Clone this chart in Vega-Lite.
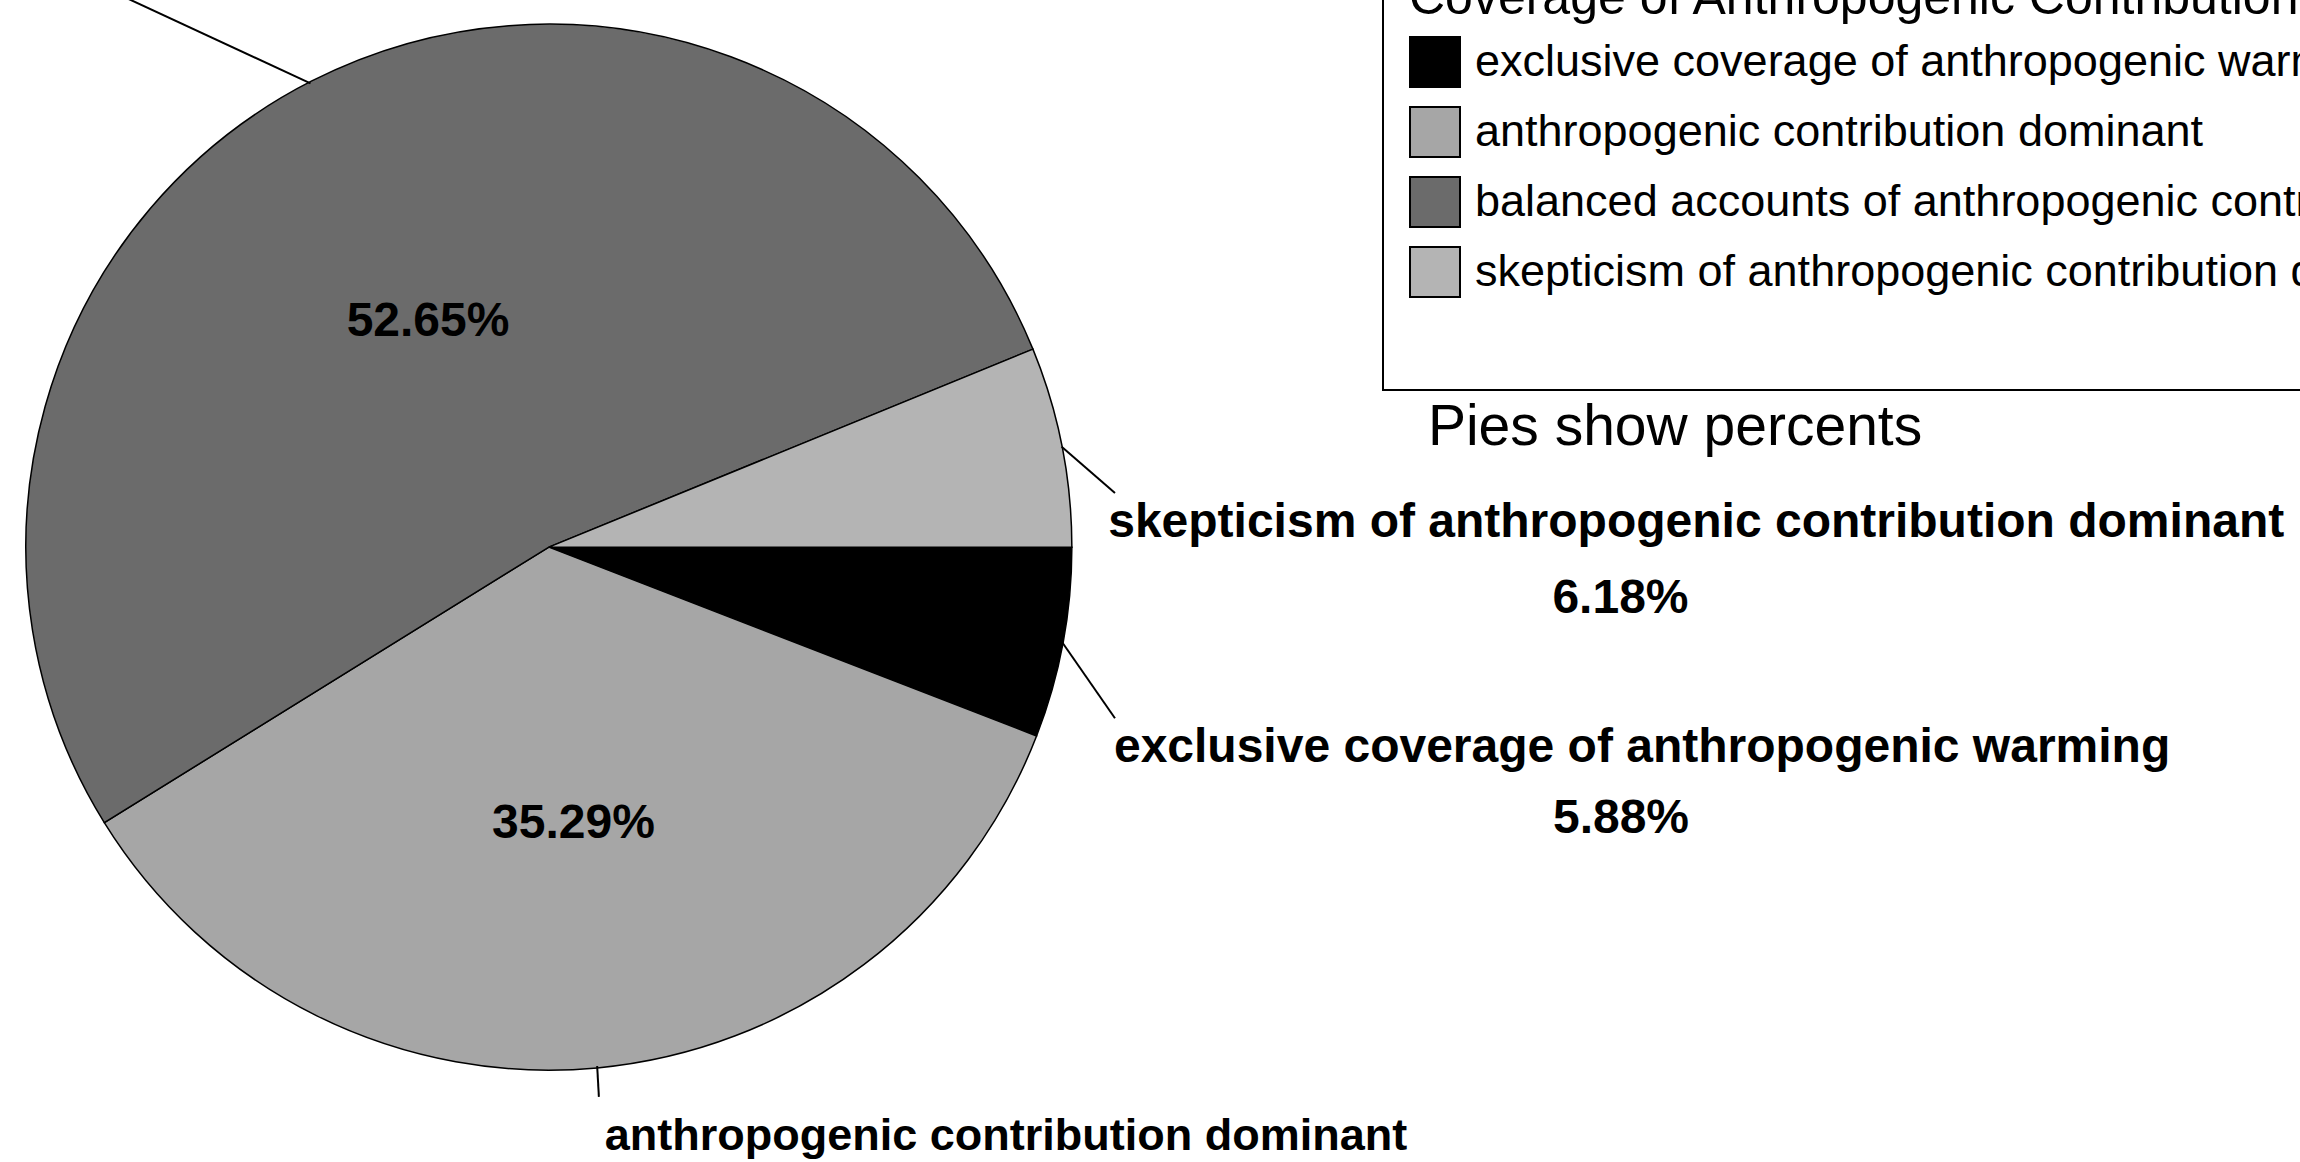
{
  "$schema": "https://vega.github.io/schema/vega-lite/v6.json",
  "width": 2300,
  "height": 1162,
  "padding": 0,
  "autosize": {"type": "none"},
  "background": "white",
  "config": {"view": {"stroke": null}, "font": "Liberation Sans"},
  "datasets": {
    "slices": [
      {"category": "exclusive coverage of anthropogenic warming", "idx": 1, "share": 0.0588},
      {"category": "anthropogenic contribution dominant", "idx": 2, "share": 0.3529},
      {"category": "balanced accounts of anthropogenic contribution and skepticism", "idx": 3, "share": 0.5265},
      {"category": "skepticism of anthropogenic contribution dominant", "idx": 4, "share": 0.0618}
    ],
    "labels": [
      {"category": "exclusive coverage of anthropogenic warming", "edgeX": 0.983, "edgeY": -0.184, "endX": 1.083, "endY": -0.3285, "nameX": 1.081, "nameY": -0.412, "pctX": 2.051, "pctY": -0.548},
      {"category": "anthropogenic contribution dominant", "edgeX": 0.0924, "edgeY": -0.9957, "endX": 0.0957, "endY": -1.055, "nameX": 0.107, "nameY": -1.157, "pctX": null, "pctY": null},
      {"category": "balanced accounts of anthropogenic contribution and skepticism", "edgeX": -0.456, "edgeY": 0.89, "endX": -0.918, "endY": 1.105, "nameX": null, "nameY": null, "pctX": null, "pctY": null},
      {"category": "skepticism of anthropogenic contribution dominant", "edgeX": 0.981, "edgeY": 0.1925, "endX": 1.083, "endY": 0.104, "nameX": 1.07, "nameY": 0.02, "pctX": 2.05, "pctY": -0.126}
    ],
    "note": [{"text": "Pies show percents", "x": 1.6817, "y": 0.1962}]
  },
  "layer": [
    {
      "data": {"name": "slices"},
      "mark": {"type": "arc", "radius": 523, "stroke": "black", "strokeWidth": 1.5},
      "encoding": {
        "x": {"datum": 0, "type": "quantitative", "scale": {"domain": [-1.05, 3.35], "nice": false, "zero": false}, "axis": null},
        "y": {"datum": 0, "type": "quantitative", "scale": {"domain": [-1.18, 1.05], "nice": false, "zero": false}, "axis": null},
        "theta": {"field": "share", "type": "quantitative", "stack": true, "scale": {"range": [1.5708, 7.854]}},
        "order": {"field": "idx", "type": "quantitative"},
        "color": {
          "field": "category",
          "type": "nominal",
          "scale": {
            "domain": ["exclusive coverage of anthropogenic warming", "anthropogenic contribution dominant", "balanced accounts of anthropogenic contribution and skepticism", "skepticism of anthropogenic contribution dominant", " "],
            "range": ["#000000", "#a6a6a6", "#6b6b6b", "#b4b4b4", "#ffffff"]
          },
          "legend": {
            "orient": "none",
            "legendX": 1383,
            "legendY": -52,
            "title": "Coverage of Anthropogenic Contribution to Global Warming",
            "titleFont": "Liberation Sans",
            "titleFontSize": 50,
            "titleFontWeight": "normal",
            "titleColor": "black",
            "titlePadding": 12,
            "titleLimit": 3000,
            "labelFont": "Liberation Sans",
            "labelFontSize": 45,
            "labelColor": "black",
            "labelLimit": 3000,
            "labelOffset": 14,
            "symbolType": "square",
            "symbolSize": 2500,
            "symbolStrokeColor": "black",
            "symbolStrokeWidth": 2,
            "symbolOpacity": 1,
            "rowPadding": 12,
            "padding": 26,
            "strokeColor": "black",
            "fillColor": "white",
            "encode": {
              "legend": {"update": {"strokeWidth": {"value": 2}}},
              "symbols": {"update": {"strokeOpacity": {"signal": "datum.value === ' ' ? 0 : 1"}}}
            }
          }
        }
      }
    },
    {
      "data": {"name": "slices"},
      "mark": {"type": "text", "radius": 266, "dy": 12, "fontSize": 48, "fontWeight": "bold", "color": "black", "baseline": "middle", "align": "center"},
      "encoding": {
        "x": {"datum": 0, "type": "quantitative", "scale": {"domain": [-1.05, 3.35], "nice": false, "zero": false}, "axis": null},
        "y": {"datum": 0, "type": "quantitative", "scale": {"domain": [-1.18, 1.05], "nice": false, "zero": false}, "axis": null},
        "theta": {"field": "share", "type": "quantitative", "stack": true, "scale": {"range": [1.5708, 7.854]}},
        "order": {"field": "idx", "type": "quantitative"},
        "detail": {"field": "category", "type": "nominal"},
        "text": {"condition": {"test": "datum.share > 0.2", "field": "share", "type": "quantitative", "format": ".2%"}, "value": ""}
      }
    },
    {
      "data": {"name": "labels"},
      "mark": {"type": "rule", "color": "black", "strokeWidth": 2},
      "encoding": {
        "x": {"field": "edgeX", "type": "quantitative", "scale": {"domain": [-1.05, 3.35], "nice": false, "zero": false}, "axis": null},
        "y": {"field": "edgeY", "type": "quantitative", "scale": {"domain": [-1.18, 1.05], "nice": false, "zero": false}, "axis": null},
        "x2": {"field": "endX"},
        "y2": {"field": "endY"}
      }
    },
    {
      "data": {"name": "labels"},
      "transform": [{"filter": "datum.nameX != null"}],
      "mark": {"type": "text", "fontWeight": "bold", "color": "black", "align": "left", "baseline": "alphabetic"},
      "encoding": {
        "x": {"field": "nameX", "type": "quantitative", "scale": {"domain": [-1.05, 3.35], "nice": false, "zero": false}, "axis": null},
        "y": {"field": "nameY", "type": "quantitative", "scale": {"domain": [-1.18, 1.05], "nice": false, "zero": false}, "axis": null},
        "text": {"field": "category", "type": "nominal"},
        "size": {"condition": {"test": "datum.category === 'anthropogenic contribution dominant'", "value": 45}, "value": 48}
      }
    },
    {
      "data": {"name": "labels"},
      "transform": [
        {"filter": "datum.pctX != null"},
        {"lookup": "category", "from": {"data": {"name": "slices"}, "key": "category", "fields": ["share"]}}
      ],
      "mark": {"type": "text", "fontSize": 48, "fontWeight": "bold", "color": "black", "align": "center", "baseline": "alphabetic"},
      "encoding": {
        "x": {"field": "pctX", "type": "quantitative", "scale": {"domain": [-1.05, 3.35], "nice": false, "zero": false}, "axis": null},
        "y": {"field": "pctY", "type": "quantitative", "scale": {"domain": [-1.18, 1.05], "nice": false, "zero": false}, "axis": null},
        "text": {"field": "share", "type": "quantitative", "format": ".2%"}
      }
    },
    {
      "data": {"name": "note"},
      "mark": {"type": "text", "fontSize": 57, "fontWeight": "normal", "color": "black", "align": "left", "baseline": "alphabetic"},
      "encoding": {
        "x": {"field": "x", "type": "quantitative", "scale": {"domain": [-1.05, 3.35], "nice": false, "zero": false}, "axis": null},
        "y": {"field": "y", "type": "quantitative", "scale": {"domain": [-1.18, 1.05], "nice": false, "zero": false}, "axis": null},
        "text": {"field": "text", "type": "nominal"}
      }
    }
  ]
}
